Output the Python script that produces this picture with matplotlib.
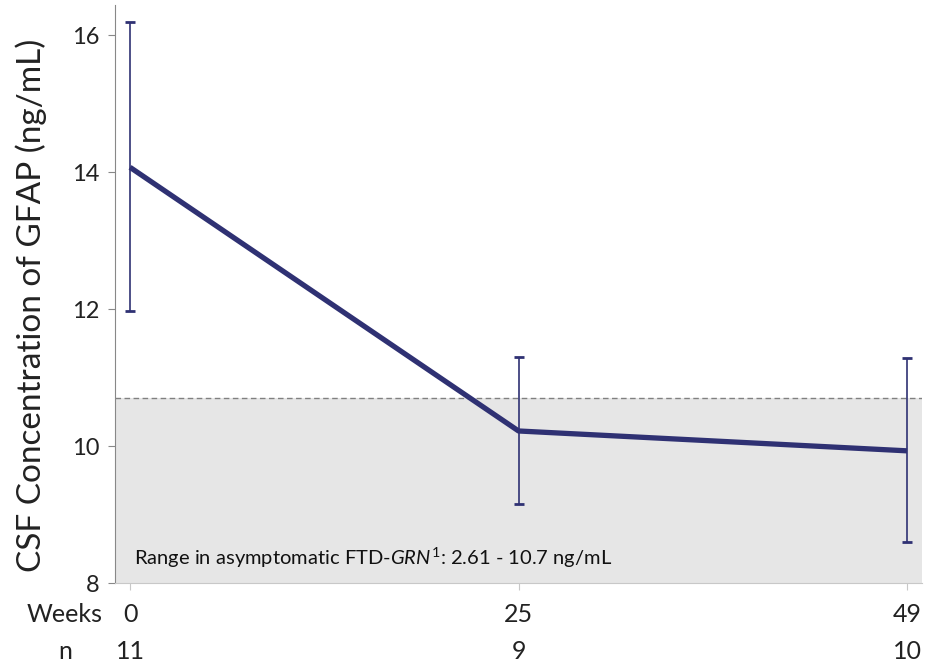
import matplotlib
matplotlib.use("Agg")
import matplotlib.pyplot as plt
import numpy as np

# data
weeks = ["0", "25", "49"]
n_subjects = ["11", "9", "10"]
gfap_mean = [14.07, 10.22, 9.93]
err_upper = [16.19, 11.30, 11.28]
err_lower = [11.97, 9.16, 8.60]
ref_low, ref_high = 2.61, 10.7

plt.rcParams["font.family"] = ["Lato", "DejaVu Sans"]
plt.rcParams["mathtext.fontset"] = "custom"
plt.rcParams["mathtext.rm"] = "Lato"
plt.rcParams["mathtext.it"] = "Lato:italic"

navy = "#2f3173"
ink = "#222222"
x = np.arange(len(weeks))
mean = np.array(gfap_mean)
yerr = [mean - np.array(err_lower), np.array(err_upper) - mean]

fig = plt.figure(figsize=(9.36, 6.66), dpi=100)
ax = fig.add_axes([0.1229, 0.1246, 0.8622, 0.8679])

# reference range band
ax.axhspan(ref_low, ref_high, color="#e6e6e6", zorder=0, lw=0)
ax.axhline(ref_high, color="#808080", ls=(0, (4, 2.5)), lw=1.0, zorder=1)
ax.text(0.024, 0.022,
        r"Range in asymptomatic FTD-$\mathit{GRN}^{\mathrm{1}}$: "
        f"{ref_low} - {ref_high} ng/mL",
        transform=ax.transAxes, fontsize=14.5, color="#111111", ha="left", va="bottom")

ax.errorbar(x, mean, yerr=yerr, fmt="none", ecolor=navy, elinewidth=1.2,
            capsize=3.5, capthick=2, zorder=3)
ax.plot(x, mean, color=navy, lw=3.8, solid_capstyle="butt", zorder=4)

ax.set_xlim(-0.0386, 2.0386)
ax.set_ylim(8, 16.44)
ax.set_yticks([8, 10, 12, 14, 16])
ax.tick_params(axis="y", labelsize=17, length=5, pad=6, color="#888888", labelcolor=ink)
ax.set_xticks(x)
ax.set_xticklabels([])
ax.tick_params(axis="x", length=5, color="#c8c8c8")
ax.set_ylabel("CSF Concentration of GFAP (ng/mL)", fontsize=24, color=ink)
ax.yaxis.set_label_coords(-0.084, 0.48)

for side in ("top", "right"):
    ax.spines[side].set_visible(False)
ax.spines["left"].set_color("#888888")
ax.spines["bottom"].set_color("#c8c8c8")

# week / n rows under the axis
trans = ax.get_xaxis_transform()
row_w, row_n = -0.055, -0.119
ax.text(-0.07, row_w, "Weeks", transform=trans, ha="right", va="center", fontsize=18, color=ink)
ax.text(-0.167, row_n, "n", transform=trans, ha="center", va="center", fontsize=18, color=ink)
for xi, w, n in zip(x, weeks, n_subjects):
    ax.text(xi, row_w, w, transform=trans, ha="center", va="center", fontsize=18, color=ink)
    ax.text(xi, row_n, n, transform=trans, ha="center", va="center", fontsize=18, color=ink)

fig.savefig("out.png", dpi=100)
